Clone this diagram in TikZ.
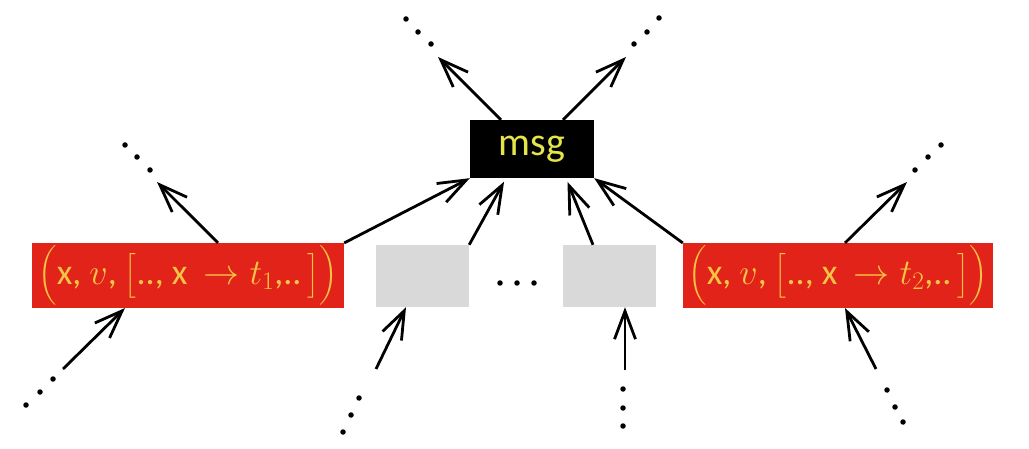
\documentclass[tikz,border=0pt]{standalone}
\usepackage{fix-cm}
\usepackage{amsmath}
\usepackage{fontspec}
\setmainfont{Carlito}
\usetikzlibrary{arrows.meta,calc}
\definecolor{boxred}{HTML}{E2231A}
\definecolor{tupleyellow}{HTML}{F6C445}
\definecolor{msgyellow}{HTML}{E4E54A}
\definecolor{ghost}{HTML}{D9D9D9}
\tikzset{
  redbox/.style={fill=boxred, minimum width=312pt, minimum height=63pt, inner sep=0pt,
    text=tupleyellow, font=\fontsize{36}{40}\selectfont},
  greybox/.style={fill=ghost, minimum width=93pt, minimum height=62pt, inner sep=0pt},
  msgbox/.style={fill=black, minimum width=124pt, minimum height=58pt, inner sep=0pt,
    text=msgyellow, font=\fontsize{40}{44}\selectfont},
  arr/.style={line width=2.8pt, -{Straight Barb[length=28pt,width=21pt,line width=2.8pt]}},
  dot/.style={circle, fill=black, inner sep=0pt, minimum size=5.5pt},
}
\newcommand{\tuple}[1]{$\Big(\text{x, }v\text{, }\big[\text{..,\ x\,}\rightarrow t_{#1}\text{,..}\,\big]\Big)$}
\begin{document}
\begin{tikzpicture}[x=1pt,y=-1pt]
\useasboundingbox (0,0) rectangle (1029,449);
% boxes
\node[redbox] (lred) at (188,275.5) {\tuple{1}};
\node[redbox, minimum width=310pt] (rred) at (838,275.5) {\tuple{2}};
\node[greybox] (g1) at (422.5,276) {};
\node[greybox] (g2) at (609.5,276) {};
\node[msgbox] (msg) at (532,149) {msg};
% the ellipsis between the grey boxes
\node[dot] (m1) at (500,283) {};
\node[dot] (m2) at (517,283) {};
\node[dot] (m3) at (534,283) {};
% free ends
\coordinate (tl) at (438,57);
\coordinate (tr) at (626,57);
\coordinate (ul) at (157,182);
\coordinate (ur) at (907,182);
\coordinate (bl) at (63,369);
\coordinate (bg1) at (376,369);
\coordinate (bg2) at (625,370);
\coordinate (br) at (876,369);
% arrows out of msg
\draw[arr] ($(msg.north)+(-31,0)$) -- (tl);
\draw[arr] ($(msg.north)+(31,0)$) -- (tr);
% arrows into msg
\draw[arr] (lred.north east) -- (msg.south west);
\draw[arr, shorten >=4pt] (g1.north east) -- ($(msg.south)+(-26,0)$);
\draw[arr, shorten >=4pt] ($(g2.north)+(-16.5,0)$) -- ($(msg.south)+(34,0)$);
\draw[arr] (rred.north west) -- (msg.south east);
% arrows out of the red boxes
\draw[arr] ($(lred.north)+(30,0)$) -- (ul);
\draw[arr] ($(rred.north)+(7,0)$) -- (ur);
% arrows into the boxes from below
\draw[arr] (bl) -- ($(lred.south)+(-63,0)$);
\draw[arr] (bg1) -- ($(g1.south)+(-16.5,0)$);
\draw[arr] (bg2) -- ($(g2.south)+(15.5,0)$);
\draw[arr] (br) -- ($(rred.south)+(7,0)$);
% dots
\foreach \p [count=\i] in {(406,19),(418,32),(431,44),
  (634,44),(647,32),(659,18),
  (125,145),(137,157),(150,170),
  (915,170),(928,157),(941,145),
  (53,379),(40,392),(26,405),
  (359,398),(351,415),(343,432),
  (623,389),(623,408),(623,426),
  (887,390),(895,407),(903,422)}
  \node[dot] (d\i) at \p {};
\end{tikzpicture}
\end{document}
